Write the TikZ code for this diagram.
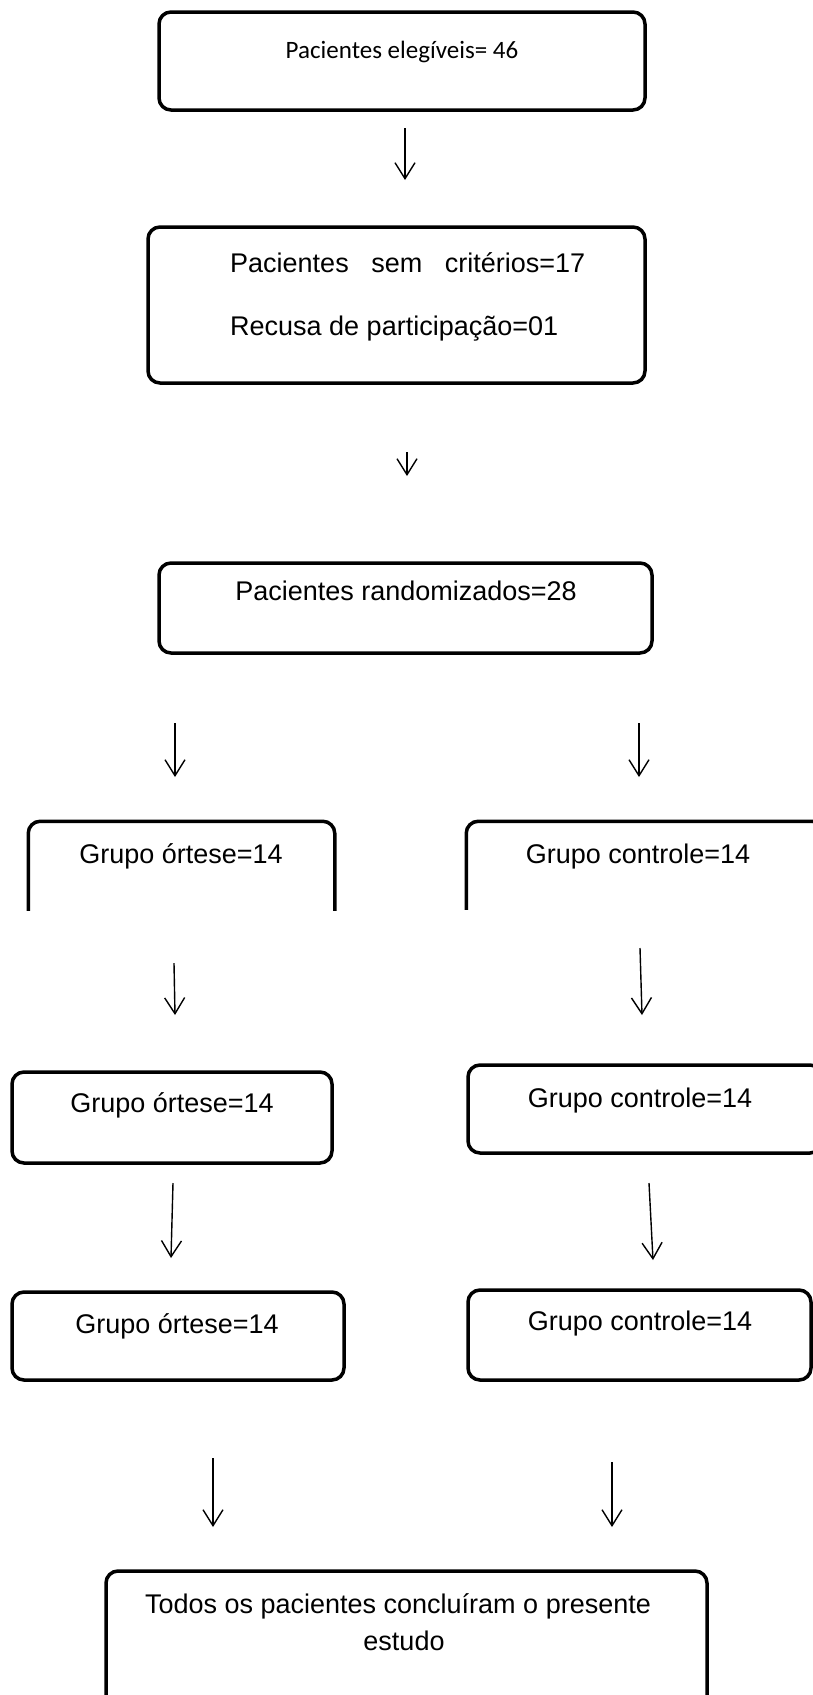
\documentclass[tikz,border=0pt]{standalone}
\usepackage{fontspec}
\setmainfont{Liberation Sans}
\newfontfamily\calibri{Carlito}
\usetikzlibrary{arrows.meta}
\tikzset{box/.style = {draw, line width=3.5pt, rounded corners=12pt, inner sep=0pt}}
\tikzset{rim/.style = {line width=3.5pt, rounded corners=12pt}}
\tikzset{edge/.style = {-{Straight Barb[length=16pt,width=20pt]}, line width=1.4pt}}
\tikzset{txt/.style = {anchor=base, inner sep=0pt, font=\fontsize{27}{32}\selectfont}}

\begin{document}
\begin{tikzpicture}[x=1pt, y=-1pt]
          \useasboundingbox (0,0) rectangle (812,1695);

          \node[box, minimum width=486pt, minimum height=98pt] (elig) at (402,61) {};
          \node[box, minimum width=497pt, minimum height=156pt] (excl) at (396.5,305) {};
          \node[box, minimum width=493pt, minimum height=90pt] (rand) at (405.5,608) {};
          \node[box, draw=none, minimum width=303pt, minimum height=90pt] (ort1) at (181.5,868) {};
          \node[box, draw=none, minimum width=354pt, minimum height=89pt] (ctl1) at (645,867.5) {};
          \node[box, minimum width=320pt, minimum height=91pt] (ort2) at (172,1117.5) {};
          \node[box, minimum width=354pt, minimum height=88pt] (ctl2) at (645,1109) {};
          \node[box, minimum width=332pt, minimum height=88pt] (ort3) at (178,1336) {};
          \node[box, minimum width=343pt, minimum height=90pt] (ctl3) at (639.5,1335) {};
          \node[box, minimum width=601pt, minimum height=144pt] (fim) at (406.5,1643) {};

          % first pair of group boxes is open at the bottom
          \draw[rim] ([yshift=4pt]ort1.south west) -- (ort1.north west) -- (ort1.north east) -- ([yshift=4pt]ort1.south east);
          \draw[rim] ([yshift=4pt]ctl1.south west) -- (ctl1.north west) -- (ctl1.north east) -- ([yshift=4pt]ctl1.south east);

          \node[txt, font=\calibri\fontsize{25}{30}\selectfont] (elig-txt) at (402,58) {Pacientes elegíveis= 46};
          \node[txt, anchor=base west] (excl-txt1) at (230,272) {\makebox[355pt][s]{Pacientes sem critérios=17}};
          \node[txt, anchor=base west] (excl-txt2) at (230,335) {Recusa de participação=01};
          \node[txt] (rand-txt) at (406,600) {Pacientes randomizados=28};
          \node[txt] (ort1-txt) at (181,863) {Grupo órtese=14};
          \node[txt] (ctl1-txt) at (638,863) {Grupo controle=14};
          \node[txt] (ort2-txt) at (172,1112) {Grupo órtese=14};
          \node[txt] (ctl2-txt) at (640,1107) {Grupo controle=14};
          \node[txt] (ort3-txt) at (177,1333) {Grupo órtese=14};
          \node[txt] (ctl3-txt) at (640,1330) {Grupo controle=14};
          \node[txt] (fim-txt1) at (398,1613) {Todos os pacientes concluíram o presente};
          \node[txt] (fim-txt2) at (404,1650) {estudo};

          \foreach \n/\xa/\ya/\xb/\yb in {a1/405/128/405/180, a2/407/452/407/476,
                    al1/175/723/175/777, ar1/639/723/639/777,
                    al2/174/963/175/1015, ar2/640/948/642/1015,
                    al3/173/1183/171/1258, ar3/649/1183/653/1260,
                    al4/213/1458/213/1527, ar4/612/1462/612/1527} {
            \coordinate (\n-top) at (\xa,\ya);
            \coordinate (\n-tip) at (\xb,\yb);
            \draw[edge] (\n-top) -- (\n-tip);
          }
        \end{tikzpicture}
\end{document}
